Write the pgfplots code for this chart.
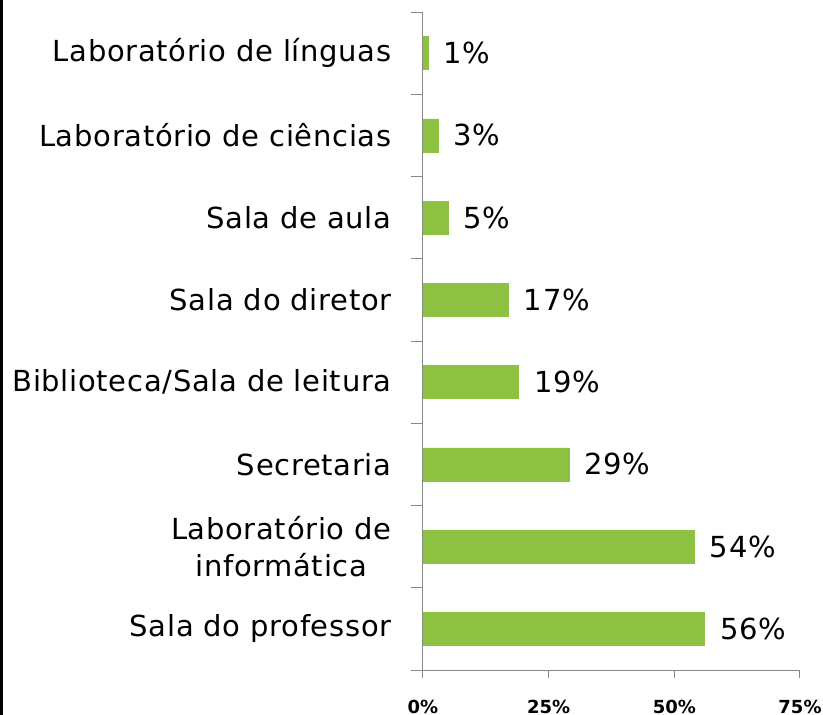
\documentclass[border=0pt]{standalone}
\usepackage{pgfplots}
\pgfplotsset{compat=1.18}
\usepackage{fontspec}
\setmainfont{DejaVu Sans}
\newfontfamily\tickfont{DejaVu Sans}
\newfontfamily\labfont[LetterSpace=2.4]{DejaVu Sans}
\definecolor{barg}{RGB}{140,193,66}
\definecolor{axg}{RGB}{134,134,134}
\begin{document}
\begin{tikzpicture}[x=1pt,y=1pt]
\begin{axis}[
  /pgf/number format/assume math mode=true,
  at={(423pt,-670pt)}, anchor=south west,
  scale only axis, width=377pt, height=658pt,
  xmin=0, xmax=75, ymin=0.5, ymax=8.5,
  axis x line*=bottom, axis y line*=left,
  axis line style={-, draw=axg, line width=1pt},
  every tick/.style={draw=axg, line width=1pt},
  xtick={0,25,50,75},
  xticklabels={0\%,25\%,50\%,75\%},
  xticklabel style={font=\tickfont\bfseries\fontsize{18}{20}\selectfont, yshift=-19pt},
  ytick={1,...,8},
  yticklabels={Sala do professor,{Laboratório de\\informática},Secretaria,Biblioteca/Sala de leitura,Sala do diretor,Sala de aula,Laboratório de ciências,Laboratório de línguas},
  yticklabel style={align=center, font=\labfont\fontsize{29}{37}\selectfont, xshift=-20pt},
  major y tick style={draw=none},
  minor ytick={0.5,1.5,...,8.5},
  tick align=outside,
  major tick length=8pt,
  minor tick length=12pt,
  xbar, bar width=33pt,
  clip=false,
  nodes near coords={\pgfmathprintnumber{\pgfplotspointmeta}\%},
  nodes near coords style={font=\labfont\fontsize{29}{30}\selectfont, anchor=west, xshift=12pt, text=black},
]
\addplot[fill=barg, draw=barg] coordinates {
  (56,1) (54,2) (29,3) (19,4) (17,5) (5,6) (3,7) (1,8)
};
\end{axis}
\pgfresetboundingbox
\useasboundingbox (0,0) rectangle (823,-715);
\fill[black] (0,0) rectangle (3,-715);
\end{tikzpicture}
\end{document}
